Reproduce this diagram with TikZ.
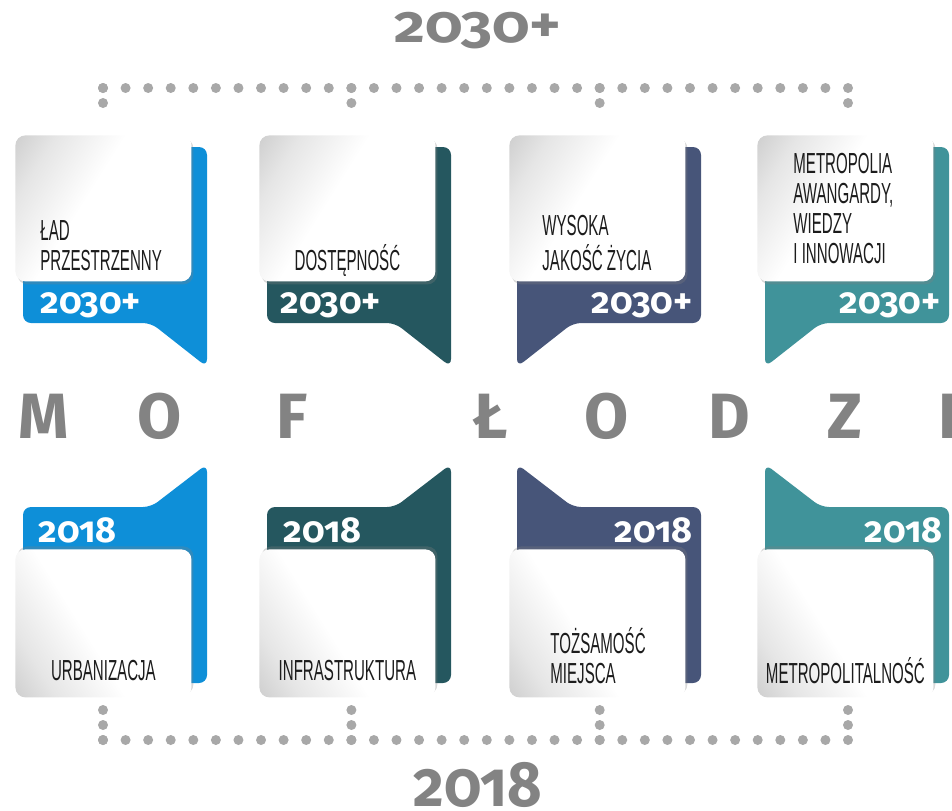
\documentclass[tikz,border=0pt]{standalone}
\usepackage{fontspec}
\setmainfont{Fira Sans}[Numbers=OldStyle]
\newfontfamily\narrowfont{Liberation Sans}
\usetikzlibrary{positioning, calc, shadows}
\definecolor{Azure}{HTML}{0E8FD8}
\definecolor{Petrol}{HTML}{25575F}
\definecolor{Slate}{HTML}{475579}
\definecolor{Lagoon}{HTML}{40939A}
\definecolor{DotGray}{HTML}{A8A8A8}
\definecolor{TitleGray}{HTML}{838383}
\definecolor{Ink}{HTML}{1C1C1C}
\pgfdeclareverticalshading{cardfade}{100bp}{color(0bp)=(white); color(56bp)=(white); color(74bp)=(black!10); color(100bp)=(black!32)}
\newcommand{\boxlabel}[1]{\scalebox{0.52}[1]{\begin{tabular}[b]{@{}l@{}}#1\end{tabular}}}
\tikzset{
  card/.style={rectangle, rounded corners=5pt, minimum width=88pt,
               minimum height=#1, anchor=north west, inner sep=0pt, shading=cardfade},
  upcard/.style={card=73pt, shading angle=58,
               drop shadow={shadow xshift=1pt, shadow yshift=-1.5pt, opacity=0.3}},
  downcard/.style={card=74pt, shading angle=122,
               drop shadow={shadow xshift=1pt, shadow yshift=1.5pt, opacity=0.3}},
  cardtext/.style={inner sep=0pt, text=Ink, font=\narrowfont\fontsize{14.5}{15}\selectfont},
  yeartag/.style={inner sep=0pt, text=white, font=\bfseries\fontsize{18}{18}\selectfont},
  bigyear/.style={inner sep=0pt, anchor=base, text=TitleGray},
  letter/.style={inner sep=0pt, anchor=base, text=TitleGray, font=\bfseries\fontsize{32}{32}\selectfont},
}
\begin{document}
\begin{tikzpicture}[x=0.5pt, y=-0.5pt,
    dotrow/.style={draw=DotGray, line width=5pt, line cap=round, dash pattern=on 0pt off 11.288pt},
    dotcol/.style={draw=DotGray, line width=5pt, line cap=round, dash pattern=on 0pt off 7.5pt}]
  \useasboundingbox (0,0) rectangle (952,810);

  % titles
  \node[bigyear, font=\bfseries\fontsize{26}{26}\selectfont] (future) at (478,42) {\scalebox{1.15}[1]{2030+}};
  \node[bigyear, font=\bfseries\fontsize{32}{32}\selectfont] (present) at (478,806) {\scalebox{0.93}[1]{2018}};

  % dotted brackets
  \coordinate (tl) at (103,88);   \coordinate (tr) at (848,88);
  \coordinate (bl) at (103,740);  \coordinate (br) at (848,740);
  \draw[dotrow] (tl) -- (tr);
  \draw[dotrow] (bl) -- (br);
  \foreach \x in {103, 351.4, 599.7, 848} {
    \draw[dotcol] (\x,88) -- (\x,118);
    \draw[dotcol] (\x,710) -- (\x,740);
  }

  % colour tabs, upper row
  \fill[Azure, rounded corners=4pt] (23,220) -- (23,323) -- (151,323) -- (207,367) -- (207,147) -- (180,147) -- (180,220) -- cycle;
  \fill[Petrol, rounded corners=4pt] (267,220) -- (267,323) -- (395,323) -- (451,367) -- (451,147) -- (424,147) -- (424,220) -- cycle;
  \fill[Slate, rounded corners=4pt] (517,367) -- (517,220) -- (674,220) -- (674,147) -- (701,147) -- (701,323) -- (573,323) -- cycle;
  \fill[Lagoon, rounded corners=4pt] (765,367) -- (765,220) -- (922,220) -- (922,147) -- (949,147) -- (949,323) -- (821,323) -- cycle;

  % colour tabs, lower row
  \fill[Azure, rounded corners=4pt] (23,620) -- (23,507) -- (151,507) -- (207,464) -- (207,683) -- (180,683) -- (180,620) -- cycle;
  \fill[Petrol, rounded corners=4pt] (267,620) -- (267,507) -- (395,507) -- (451,464) -- (451,683) -- (424,683) -- (424,620) -- cycle;
  \fill[Slate, rounded corners=4pt] (517,464) -- (573,507) -- (701,507) -- (701,683) -- (674,683) -- (674,620) -- (517,620) -- cycle;
  \fill[Lagoon, rounded corners=4pt] (765,464) -- (821,507) -- (949,507) -- (949,683) -- (922,683) -- (922,620) -- (765,620) -- cycle;

  % white cards
  \node[upcard] (w1) at (15,135) {};
  \node[upcard] (w2) at (259,135) {};
  \node[upcard] (w3) at (509,135) {};
  \node[upcard] (w4) at (757,135) {};
  \node[downcard] (w5) at (15,549) {};
  \node[downcard] (w6) at (259,549) {};
  \node[downcard] (w7) at (509,549) {};
  \node[downcard] (w8) at (757,549) {};

  % card texts
  \node[cardtext, anchor=base west] (t1) at ($(w1.south west)+(25,-11)$) {\boxlabel{ŁAD\\PRZESTRZENNY}};
  \node[cardtext, anchor=base] (t2) at ($(w2.south)+(0,-11)$) {\boxlabel{DOSTĘPNOŚĆ}};
  \node[cardtext, anchor=base west] (t3) at ($(w3.south west)+(33,-11)$) {\boxlabel{WYSOKA\\JAKOŚĆ ŻYCIA}};
  \node[cardtext, anchor=base west] (t4) at ($(w4.south west)+(36,-18)$) {\boxlabel{METROPOLIA\\AWANGARDY,\\WIEDZY\\I INNOWACJI}};
  \node[cardtext, anchor=base] (t5) at ($(w5.south)+(0,-17)$) {\boxlabel{URBANIZACJA}};
  \node[cardtext, anchor=base] (t6) at ($(w6.south)+(0,-17)$) {\boxlabel{INFRASTRUKTURA}};
  \node[cardtext, anchor=base west] (t7) at ($(w7.south west)+(41,-14)$) {\boxlabel{TOŻSAMOŚĆ\\MIEJSCA}};
  \node[cardtext, anchor=base] (t8) at ($(w8.south)+(0,-14)$) {\boxlabel{METROPOLITALNOŚĆ}};

  % year tags
  \node[yeartag, anchor=base west] (y1) at (40,313) {2030+};
  \node[yeartag, anchor=base west] (y2) at (280,313) {2030+};
  \node[yeartag, anchor=base east] (y3) at (693,313) {2030+};
  \node[yeartag, anchor=base east] (y4) at (941,313) {2030+};
  \node[yeartag, anchor=base west] (y5) at (38,542) {2018};
  \node[yeartag, anchor=base west] (y6) at (283,542) {2018};
  \node[yeartag, anchor=base east] (y7) at (693,542) {2018};
  \node[yeartag, anchor=base east] (y8) at (943,542) {2018};

  % MOF ŁODZI
  \foreach \ch/\x [count=\k] in {M/44, O/160, F/292, Ł/490, O/607, D/729, Z/845, I/948}
    \node[letter] (l\k) at (\x,438) {\ch};
\end{tikzpicture}
\end{document}
